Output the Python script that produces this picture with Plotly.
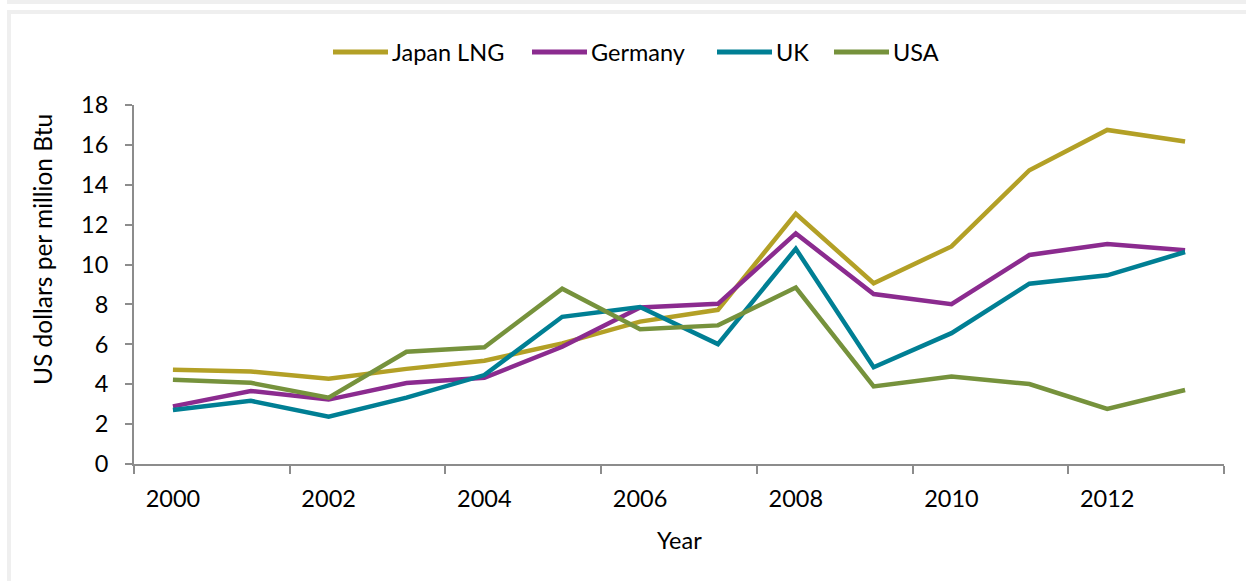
import plotly.graph_objects as go

# Natural gas prices, US dollars per million Btu
years = list(range(2000, 2014))
japan_lng = [4.72, 4.64, 4.27, 4.77, 5.18, 6.05, 7.14, 7.73, 12.55, 9.06, 10.91, 14.73, 16.75, 16.17]
germany = [2.89, 3.66, 3.23, 4.06, 4.32, 5.88, 7.85, 8.03, 11.56, 8.52, 8.01, 10.48, 11.03, 10.72]
uk = [2.71, 3.17, 2.37, 3.33, 4.46, 7.38, 7.87, 6.01, 10.79, 4.85, 6.56, 9.04, 9.46, 10.63]
usa = [4.23, 4.07, 3.33, 5.63, 5.85, 8.79, 6.76, 6.95, 8.85, 3.89, 4.39, 4.01, 2.76, 3.71]

series_names = ["Japan LNG", "Germany", "UK", "USA"]
series_values = [japan_lng, germany, uk, usa]
series_colors = ["#B3A026", "#8B2B8F", "#007F94", "#76923C"]

x_ticks = [2000, 2002, 2004, 2006, 2008, 2010, 2012]
y_ticks = list(range(0, 20, 2))

W, H = 1246, 581
L, R, T, B = 134, 22, 105, 117
PW, PH = W - L - R, H - T - B
FONT = "Lato, 'Open Sans', sans-serif"
TEXT_SIZE = 23.5
AXIS_GRAY = "#8C8C8C"
FRAME_GRAY = "#EFEFEF"


def px_x(x):
    return (x - L) / PW


def px_y(y):
    return (H - B - y) / PH


fig = go.Figure()
for name, vals, col in zip(series_names, series_values, series_colors):
    fig.add_trace(go.Scatter(
        x=years, y=vals, name=name, mode="lines",
        line=dict(color=col, width=4.5),
        showlegend=False,
    ))

shapes = [
    # thin band across the top
    dict(type="rect", xref="paper", yref="paper",
         x0=px_x(7), x1=px_x(W + 10), y0=px_y(0), y1=px_y(4),
         fillcolor=FRAME_GRAY, line=dict(width=0), layer="below"),
    # outer frame
    dict(type="rect", xref="paper", yref="paper",
         x0=px_x(9), x1=px_x(W + 20), y0=px_y(12), y1=px_y(H + 20),
         line=dict(color=FRAME_GRAY, width=4), layer="below"),
]

annotations = []

# legend row: line sample followed by label
legend_line_starts = [333, 532, 717, 834]
legend_y = 52
for name, col, x0 in zip(series_names, series_colors, legend_line_starts):
    shapes.append(dict(type="line", xref="paper", yref="paper",
                       x0=px_x(x0), x1=px_x(x0 + 55),
                       y0=px_y(legend_y), y1=px_y(legend_y),
                       line=dict(color=col, width=5)))
    annotations.append(dict(xref="paper", yref="paper",
                            x=px_x(x0 + 57), y=px_y(legend_y),
                            xanchor="left", yanchor="middle",
                            text=name, showarrow=False,
                            font=dict(family=FONT, size=TEXT_SIZE, color="#000000")))

# axis titles
annotations.append(dict(xref="paper", yref="paper",
                        x=px_x(42), y=px_y(250),
                        xanchor="center", yanchor="middle",
                        text="US dollars per million Btu", textangle=-90,
                        showarrow=False,
                        font=dict(family=FONT, size=24.5, color="#000000")))
annotations.append(dict(xref="paper", yref="paper",
                        x=0.5, y=px_y(540),
                        xanchor="center", yanchor="middle",
                        text="Year", showarrow=False,
                        font=dict(family=FONT, size=TEXT_SIZE, color="#000000")))

fig.update_layout(
    width=W, height=H,
    margin=dict(l=L, r=R, t=T, b=B),
    paper_bgcolor="white", plot_bgcolor="white",
    font=dict(family=FONT, size=TEXT_SIZE, color="#000000"),
    shapes=shapes, annotations=annotations,
    xaxis=dict(
        range=[1999.5, 2013.5], tickvals=x_ticks,
        ticktext=[str(v) for v in x_ticks],
        ticks="", showgrid=False, zeroline=False,
        showline=True, linecolor=AXIS_GRAY, linewidth=2,
        ticklabelstandoff=13,
        minor=dict(tick0=1999.5, dtick=2, ticks="outside", ticklen=8,
                   tickcolor=AXIS_GRAY, tickwidth=2, showgrid=False),
    ),
    yaxis=dict(
        range=[0, 18], tickvals=y_ticks,
        ticks="outside", ticklen=7, tickcolor=AXIS_GRAY, tickwidth=2,
        showgrid=False, zeroline=False,
        showline=True, linecolor=AXIS_GRAY, linewidth=2,
        ticklabelstandoff=12,
    ),
)

fig.write_html("out.html")
